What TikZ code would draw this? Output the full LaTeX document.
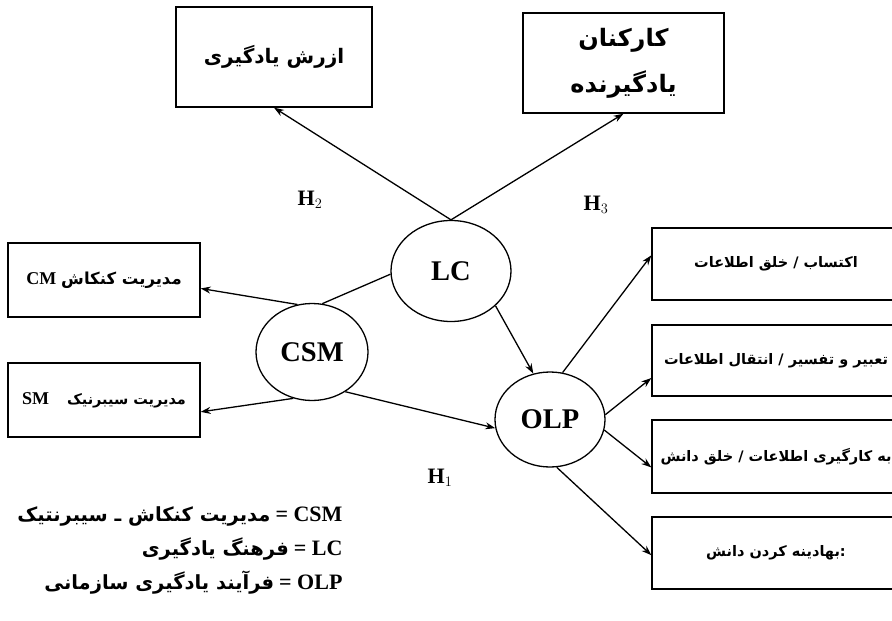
\documentclass[tikz,border=0pt]{standalone}
\usepackage{fontspec}
\setmainfont{Liberation Serif}
\newfontfamily\fa[Script=Arabic]{DejaVu Sans}
\TeXXeTstate=1
\usetikzlibrary{arrows.meta,shapes.geometric}
\newcommand{\faf}[1]{\fa\bfseries\fontsize{#1}{#1}\selectfont}
\newcommand{\lat}[2]{{\bfseries\fontsize{#1}{#1}\selectfont #2}}
\begin{document}
\begin{tikzpicture}[x=1pt,y=-1pt,
  box/.style={draw, rectangle, line width=1.3pt, inner sep=0pt},
  ell/.style={draw, ellipse, line width=1.3pt, inner sep=0pt, font=\bfseries\fontsize{28.5}{30}\selectfont},
  arr/.style={-{Stealth[length=10pt,width=7pt]}, line width=1.3pt},
  ln/.style={line width=1.3pt},
  hl/.style={font=\bfseries\fontsize{22}{24}\selectfont}]
\useasboundingbox (0,0) rectangle (892,621);
\fill[white] (0,0) rectangle (892,621);
\clip (0,0) rectangle (892,621);
% top boxes
\node[box, minimum width=196pt, minimum height=100pt] (val) at (274,57) {{\faf{20}\beginR ازرش یادگیری\endR}};
\node[box, minimum width=201pt, minimum height=100pt, align=center] (emp) at (623.5,63)
  {{\faf{24}\beginR کارکنان\endR}\\[17pt]{\faf{24}\beginR یادگیرنده\endR}};
% left boxes
\node[box, minimum width=192pt, minimum height=74pt] (cm) at (104,280) {\lat{18}{CM}\hspace{5pt}{\faf{16.5}\beginR مدیریت کنکاش\endR}};
\node[box, minimum width=192pt, minimum height=74pt] (sm) at (104,400) {\lat{18}{SM}\hspace{18pt}{\faf{14.5}\beginR مدیریت سیبرنیک\endR}};
% right boxes
\node[box, minimum width=248pt, minimum height=72pt] (b1) at (776,264) {{\faf{14.5}\beginR اکتساب / خلق اطلاعات\endR}};
\node[box, minimum width=248pt, minimum height=71pt] (b2) at (776,360.5) {{\faf{14.5}\beginR تعبیر و تفسیر / انتقال اطلاعات\endR}};
\node[box, minimum width=248pt, minimum height=73pt] (b3) at (776,456.5) {{\faf{14.5}\beginR به کارگیری اطلاعات / خلق دانش\endR}};
\node[box, minimum width=248pt, minimum height=72pt] (b4) at (776,553) {{\faf{14.5}\beginR :بهادینه کردن دانش\endR}};
% ellipses
\node[ell, minimum width=120pt, minimum height=101pt] (lc) at (451,271) {LC};
\node[ell, minimum width=112pt, minimum height=97pt] (csm) at (312,352) {CSM};
\node[ell, minimum width=110pt, minimum height=95pt] (olp) at (550,419.5) {OLP};
% hypothesis labels
\node[hl] (h2) at (310,200) {H$_{2}$};
\node[hl] (h3) at (596,205) {H$_{3}$};
\node[hl] (h1) at (440,478) {H$_{1}$};
% connectors
\draw[arr] (lc.north) -- (val.south);
\draw[arr] (lc.north) -- (emp.south);
\draw[ln] (csm.78) -- (lc.183);
\draw[arr] (csm.107) -- (cm.-5);
\draw[arr] (csm.-112) -- (sm.-7);
\draw[arr] (csm.-50) -- (olp.189);
\draw[arr] (lc.-38) -- (olp.110);
\draw[arr] (olp.75) -- (b1.176);
\draw[arr] (olp.5) -- (b2.188);
\draw[arr] (olp.-11) -- (b3.185);
\draw[arr] (olp.-82) -- (b4.181);
% legend
\node[anchor=east] (l1) at (346,516) {{\faf{19.5}\beginR مدیریت کنکاش ـ سیبرنتیک\endR}\hspace{5pt}\lat{22}{= CSM}};
\node[anchor=east] (l2) at (346,549) {{\faf{19.5}\beginR فرهنگ یادگیری\endR}\hspace{5pt}\lat{22}{= LC}};
\node[anchor=east] (l3) at (346,583) {{\faf{19.5}\beginR فرآیند یادگیری سازمانی\endR}\hspace{5pt}\lat{22}{= OLP}};
\end{tikzpicture}
\end{document}
